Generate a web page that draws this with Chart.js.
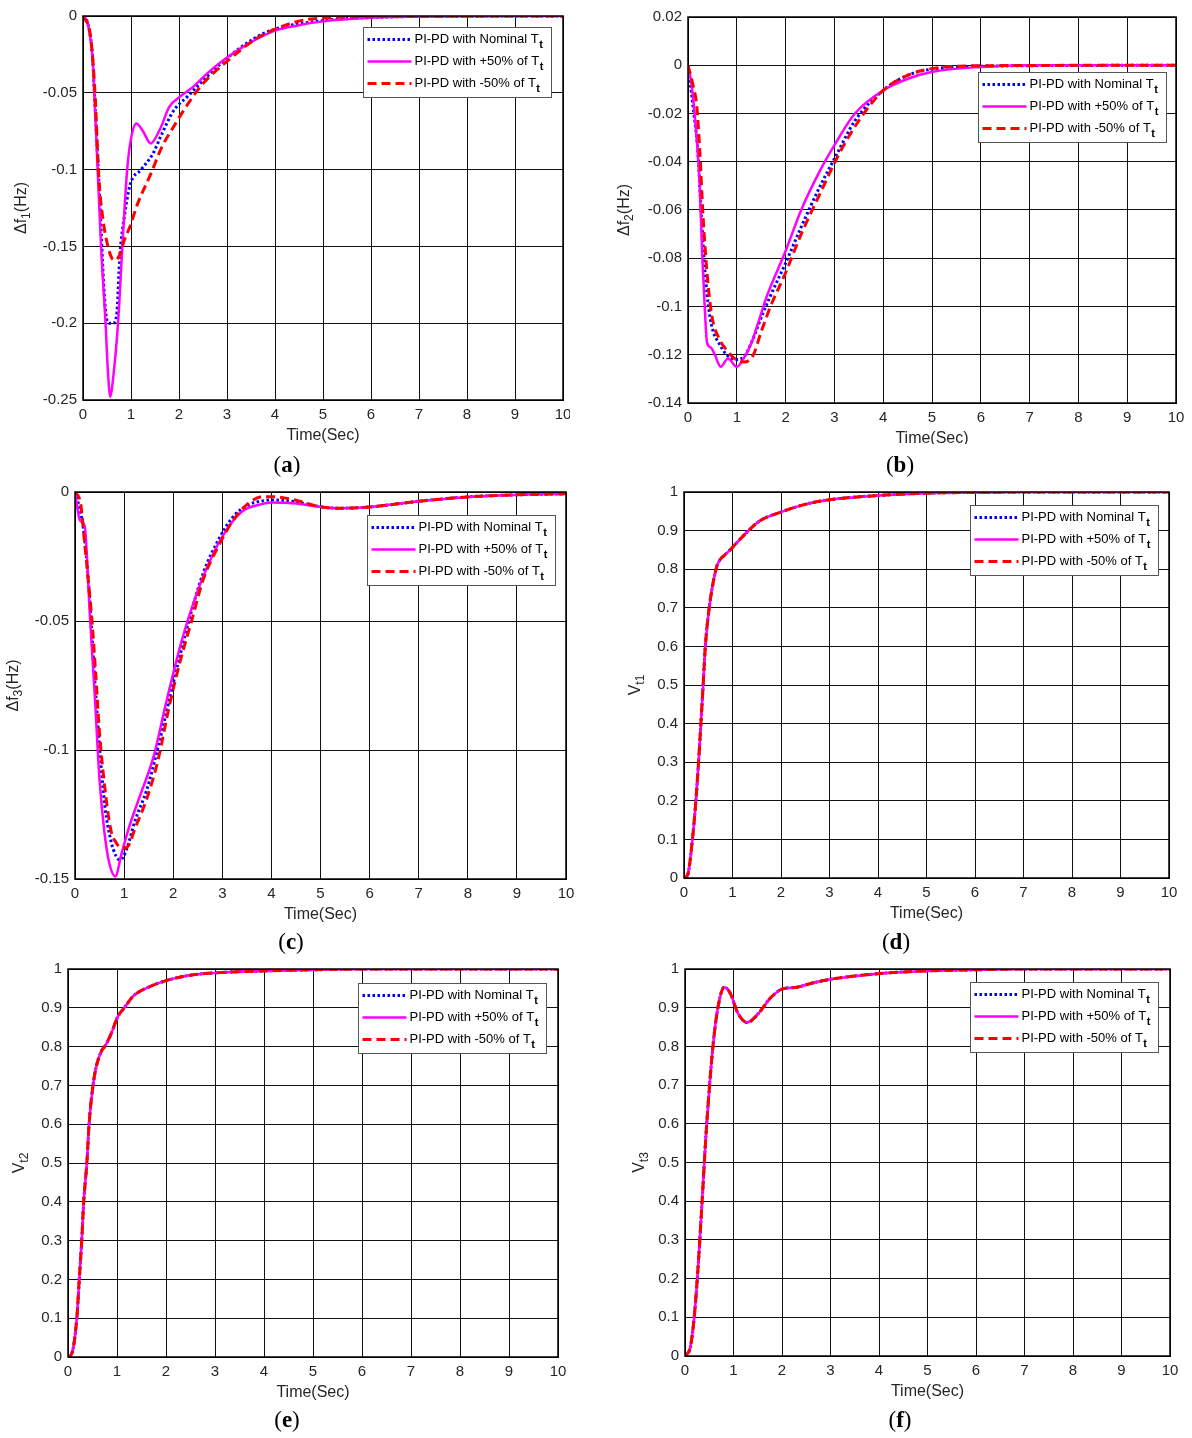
<!DOCTYPE html>
<html>
<head>
<meta charset="utf-8">
<script src="https://cdn.jsdelivr.net/npm/chart.js@4.4.1/dist/chart.umd.min.js"></script>
<style>
  html, body { margin:0; padding:0; background:#fff; }
  body { width:1192px; height:1438px; position:relative; overflow:hidden; }
  canvas { position:absolute; }
  .cap { position:absolute; font-family:'Liberation Serif','Times New Roman',serif; font-size:23px; color:#000; transform:translate(-50%,-50%); white-space:nowrap; }
</style>
</head>
<body>
<canvas id="ca"></canvas>
<canvas id="cb"></canvas>
<canvas id="cc"></canvas>
<canvas id="cd"></canvas>
<canvas id="ce"></canvas>
<canvas id="cf"></canvas>
<div class="cap" style="left:287px;top:465px">(<b>a</b>)</div>
<div class="cap" style="left:900px;top:465px">(<b>b</b>)</div>
<div class="cap" style="left:291px;top:942px">(<b>c</b>)</div>
<div class="cap" style="left:896px;top:942px">(<b>d</b>)</div>
<div class="cap" style="left:287px;top:1420px">(<b>e</b>)</div>
<div class="cap" style="left:900px;top:1420px">(<b>f</b>)</div>
<script>
// ---------------- DATA ----------------
const seriesNames = ['PI-PD with Nominal T', 'PI-PD with +50% of T', 'PI-PD with -50% of T'];
const xTicks = [0,1,2,3,4,5,6,7,8,9,10];
const yTicksA = [-0.25,-0.2,-0.15,-0.1,-0.05,0];
const yTicksB = [-0.14,-0.12,-0.1,-0.08,-0.06,-0.04,-0.02,0,0.02];
const yTicksC = [-0.15,-0.1,-0.05,0];
const yTicksV = [0,0.1,0.2,0.3,0.4,0.5,0.6,0.7,0.8,0.9,1];

// (a) Δf1
const aNomT = [0,0.1,0.2,0.235,0.35,0.43,0.49,0.55,0.62,0.7,0.77,0.86,0.98,1.21,1.45,1.64,1.88,2.19,2.5,2.98,3.6,4.0,5.0,6.0,7.0,10];
const aNomV = [0,-0.005,-0.027,-0.049,-0.12,-0.174,-0.197,-0.2,-0.2,-0.195,-0.155,-0.131,-0.11,-0.1,-0.09,-0.077,-0.062,-0.052,-0.042,-0.028,-0.014,-0.0085,-0.003,-0.001,-0.0003,0];
const aPlusT = [0,0.1,0.2,0.235,0.3,0.376,0.47,0.52,0.57,0.62,0.73,0.82,0.92,1.0,1.11,1.25,1.41,1.6,1.8,2.0,2.3,2.6,3.0,3.5,4.0,4.5,5.0,6.0,7.0,10];
const aPlusV = [0,-0.005,-0.028,-0.05,-0.096,-0.15,-0.2,-0.232,-0.248,-0.238,-0.2,-0.15,-0.1,-0.08,-0.07,-0.075,-0.083,-0.074,-0.059,-0.053,-0.046,-0.037,-0.027,-0.017,-0.0095,-0.006,-0.0035,-0.0012,-0.0003,0];
const aMinusT = [0,0.16,0.25,0.33,0.41,0.49,0.59,0.67,0.77,0.86,0.98,1.14,1.41,1.64,1.88,2.19,2.5,2.98,3.6,4.0,4.54,5.0,6.0,10];
const aMinusV = [0,-0.014,-0.05,-0.105,-0.131,-0.146,-0.157,-0.159,-0.155,-0.146,-0.137,-0.122,-0.103,-0.0855,-0.0725,-0.057,-0.044,-0.03,-0.015,-0.0085,-0.003,-0.0013,-0.0003,0];

// (b) Δf2
const bNomT = [0,0.12,0.2,0.27,0.35,0.43,0.51,0.63,0.79,0.98,1.14,1.3,1.53,1.77,2.0,2.32,2.71,3.02,3.42,4.0,4.52,5.07,6.0,10];
const bNomV = [0,-0.02,-0.035,-0.061,-0.086,-0.1016,-0.11,-0.115,-0.12,-0.122,-0.121,-0.115,-0.103,-0.092,-0.082,-0.067,-0.05,-0.038,-0.023,-0.0104,-0.004,-0.0014,-0.0004,0];
const bPlusT = [0,0.08,0.16,0.24,0.29,0.34,0.39,0.47,0.55,0.67,0.82,1.0,1.14,1.3,1.45,1.61,2.0,2.32,2.71,3.02,3.42,4.0,4.52,4.99,6.0,7.0,10];
const bPlusV = [0,-0.009,-0.026,-0.05,-0.078,-0.099,-0.115,-0.117,-0.12,-0.125,-0.1216,-0.125,-0.1216,-0.115,-0.106,-0.096,-0.077,-0.06,-0.0435,-0.0325,-0.02,-0.0104,-0.0055,-0.0028,-0.0007,0,0];
const bMinusT = [0,0.1,0.18,0.24,0.31,0.39,0.49,0.63,0.79,0.98,1.14,1.34,1.49,1.69,2.0,2.32,2.71,3.1,3.5,4.0,4.52,4.99,6.0,10];
const bMinusV = [0,-0.008,-0.017,-0.035,-0.063,-0.086,-0.104,-0.113,-0.118,-0.122,-0.123,-0.12,-0.111,-0.1,-0.086,-0.07,-0.053,-0.0366,-0.023,-0.0104,-0.004,-0.0014,-0.0002,0];

// (c) Δf3
const cNomT = [0,0.115,0.19,0.27,0.35,0.42,0.5,0.61,0.73,0.84,0.92,1.04,1.23,1.46,1.69,1.92,2.15,2.38,2.61,2.92,3.22,3.53,3.84,3.99,4.45,4.99,5.37,6,7,8,9,10];
const cNomV = [0,-0.008,-0.017,-0.034,-0.057,-0.078,-0.099,-0.122,-0.135,-0.1413,-0.1426,-0.139,-0.127,-0.1155,-0.099,-0.0806,-0.0625,-0.0457,-0.0315,-0.0186,-0.0096,-0.005,-0.0034,-0.0031,-0.0037,-0.0057,-0.0063,-0.0058,-0.0036,-0.0019,-0.0011,-0.0007];
const cPlusT = [0,0.1,0.2,0.25,0.3,0.4,0.5,0.6,0.7,0.82,0.95,1.1,1.3,1.6,1.84,2.07,2.3,2.61,3.0,3.4,3.8,3.99,4.45,4.99,5.37,6,7,8,9,10];
const cPlusV = [0,-0.011,-0.0134,-0.0276,-0.047,-0.078,-0.1116,-0.132,-0.144,-0.149,-0.14,-0.13,-0.119,-0.1026,-0.083,-0.065,-0.0496,-0.0328,-0.0173,-0.0076,-0.0047,-0.0041,-0.0044,-0.0057,-0.0063,-0.0058,-0.0036,-0.0019,-0.0011,-0.0007];
const cMinusT = [0,0.115,0.19,0.27,0.35,0.42,0.5,0.61,0.73,0.84,0.96,1.07,1.23,1.46,1.69,1.92,2.15,2.38,2.61,2.92,3.22,3.53,3.84,3.99,4.45,4.99,5.37,6,7,8,9,10];
const cMinusV = [0,-0.0044,-0.0186,-0.034,-0.051,-0.07,-0.0935,-0.115,-0.131,-0.136,-0.138,-0.1375,-0.13,-0.119,-0.104,-0.083,-0.065,-0.0496,-0.034,-0.021,-0.011,-0.0044,-0.0018,-0.0018,-0.003,-0.0057,-0.0063,-0.0058,-0.0036,-0.0019,-0.0011,-0.0007];

// (d) Vt1
const dNomT = [0,0.08,0.174,0.245,0.3,0.395,0.44,0.52,0.66,0.72,0.85,0.95,1.1,1.33,1.56,2.0,2.5,3.0,4.0,5.0,6.0,7.0,10];
const dNomV = [0,0.01,0.1,0.2,0.3,0.5,0.6,0.7,0.8,0.82,0.838,0.85,0.87,0.9,0.925,0.948,0.968,0.98,0.991,0.997,0.999,1,1];
const dPlusT = [0,0.08,0.174,0.245,0.3,0.395,0.44,0.52,0.66,0.72,0.85,0.95,1.1,1.33,1.56,2.0,2.5,3.0,4.0,5.0,6.0,7.0,10];
const dPlusV = [0,0.01,0.1,0.2,0.3,0.5,0.6,0.7,0.8,0.82,0.838,0.85,0.87,0.9,0.925,0.948,0.968,0.98,0.991,0.997,0.999,1,1];
const dMinusT = [0,0.08,0.174,0.245,0.3,0.395,0.44,0.52,0.66,0.72,0.85,0.95,1.1,1.33,1.56,2.0,2.5,3.0,4.0,5.0,6.0,7.0,10];
const dMinusV = [0,0.01,0.1,0.2,0.3,0.5,0.6,0.7,0.8,0.82,0.838,0.85,0.87,0.9,0.925,0.948,0.968,0.98,0.991,0.997,0.999,1,1];

// (e) Vt2
const eNomT = [0,0.08,0.18,0.23,0.28,0.32,0.385,0.43,0.51,0.58,0.69,0.75,0.87,1.02,1.15,1.33,1.68,2.0,2.45,3.0,4.0,5.0,6.0,10];
const eNomV = [0,0.01,0.1,0.2,0.3,0.4,0.5,0.6,0.7,0.75,0.79,0.8,0.83,0.878,0.9,0.93,0.955,0.97,0.983,0.99,0.995,0.998,1,1];
const ePlusT = [0,0.08,0.18,0.23,0.28,0.32,0.385,0.43,0.51,0.58,0.69,0.75,0.87,1.02,1.15,1.33,1.68,2.0,2.45,3.0,4.0,5.0,6.0,10];
const ePlusV = [0,0.01,0.1,0.2,0.3,0.4,0.5,0.6,0.7,0.75,0.79,0.8,0.83,0.878,0.9,0.93,0.955,0.97,0.983,0.99,0.995,0.998,1,1];
const eMinusT = [0,0.08,0.18,0.23,0.28,0.32,0.385,0.43,0.51,0.58,0.69,0.75,0.87,1.02,1.15,1.33,1.68,2.0,2.45,3.0,4.0,5.0,6.0,10];
const eMinusV = [0,0.01,0.1,0.2,0.3,0.4,0.5,0.6,0.7,0.75,0.79,0.8,0.83,0.878,0.9,0.93,0.955,0.97,0.983,0.99,0.995,0.998,1,1];

// (f) Vt3
const fNomT = [0,0.11,0.19,0.27,0.35,0.43,0.51,0.59,0.69,0.81,0.93,1.09,1.28,1.52,1.76,2.0,2.31,2.63,3.03,3.98,5.0,6.0,7.0,10];
const fNomV = [0,0.023,0.1,0.23,0.394,0.566,0.705,0.817,0.908,0.953,0.938,0.886,0.862,0.886,0.925,0.948,0.953,0.964,0.974,0.988,0.995,0.998,1,1];
const fPlusT = [0,0.11,0.19,0.27,0.35,0.43,0.51,0.59,0.69,0.81,0.93,1.09,1.28,1.52,1.76,2.0,2.31,2.63,3.03,3.98,5.0,6.0,7.0,10];
const fPlusV = [0,0.023,0.1,0.23,0.394,0.566,0.705,0.817,0.908,0.953,0.938,0.886,0.862,0.886,0.925,0.948,0.953,0.964,0.974,0.988,0.995,0.998,1,1];
const fMinusT = [0,0.11,0.19,0.27,0.35,0.43,0.51,0.59,0.69,0.81,0.93,1.09,1.28,1.52,1.76,2.0,2.31,2.63,3.03,3.98,5.0,6.0,7.0,10];
const fMinusV = [0,0.023,0.1,0.23,0.394,0.566,0.705,0.817,0.908,0.953,0.938,0.886,0.862,0.886,0.925,0.948,0.953,0.964,0.974,0.988,0.995,0.998,1,1];

// ---------------- RENDERING ----------------
const FONT = "'Liberation Sans', Arial, Helvetica, sans-serif";
Chart.defaults.font.family = FONT;
Chart.defaults.color = '#262626';

function pts(t, v) { return t.map((x, i) => ({ x: x, y: v[i] })); }
function fmt(v) { const r = +(+v).toFixed(4); return r === 0 ? '0' : String(r); }

const LINE_STYLES = [
  { c: '#0000ff', d: [2.5, 2.5], w: 3 },
  { c: '#ff00ff', d: [], w: 2.5 },
  { c: '#ff0000', d: [9, 5], w: 3 }
];

const decoPlugin = {
  id: 'deco',
  afterDraw(chart, args, o) {
    const ctx = chart.ctx, a = chart.chartArea;
    ctx.save();
    // frame
    ctx.strokeStyle = '#000'; ctx.lineWidth = 1.5;
    ctx.strokeRect(Math.round(a.left), Math.round(a.top), Math.round(a.right - a.left), Math.round(a.bottom - a.top));
    // x title
    ctx.fillStyle = '#262626';
    ctx.font = '16px ' + FONT;
    ctx.textAlign = 'center'; ctx.textBaseline = 'middle';
    ctx.fillText('Time(Sec)', (a.left + a.right) / 2, a.bottom + 35.5);
    // y title (rotated, with subscript)
    const yt = o.yTitle;
    ctx.save();
    ctx.translate(a.left - o.yTitleOff, (a.top + a.bottom) / 2);
    ctx.rotate(-Math.PI / 2);
    ctx.textAlign = 'left'; ctx.textBaseline = 'middle';
    const mainF = '16px ' + FONT, subF = '12px ' + FONT;
    ctx.font = mainF; const w1 = ctx.measureText(yt[0]).width; const w3 = ctx.measureText(yt[2]).width;
    ctx.font = subF; const w2 = ctx.measureText(yt[1]).width;
    let x0 = -(w1 + w2 + w3) / 2;
    ctx.font = mainF; ctx.fillText(yt[0], x0, 0);
    ctx.font = subF; ctx.fillText(yt[1], x0 + w1, 5);
    ctx.font = mainF; ctx.fillText(yt[2], x0 + w1 + w2, 0);
    ctx.restore();
    // legend
    const bw = 188, bh = 70;
    const bx = Math.round(a.right - o.legR - bw) + 0.5, by = Math.round(a.top + o.legT) + 0.5;
    ctx.fillStyle = '#fff';
    ctx.fillRect(bx, by, bw, bh);
    ctx.strokeStyle = '#555'; ctx.lineWidth = 1;
    ctx.strokeRect(bx, by, bw, bh);
    LINE_STYLES.forEach((s, i) => {
      const cy = by + 12 + i * 22;
      ctx.beginPath();
      ctx.setLineDash(s.d);
      ctx.strokeStyle = s.c; ctx.lineWidth = s.w;
      ctx.moveTo(bx + 4, cy); ctx.lineTo(bx + 48, cy);
      ctx.stroke();
      ctx.setLineDash([]);
      ctx.fillStyle = '#000';
      ctx.textAlign = 'left'; ctx.textBaseline = 'middle';
      ctx.font = '13px ' + FONT;
      const tx = bx + 51;
      ctx.fillText(seriesNames[i], tx, cy);
      const tw = ctx.measureText(seriesNames[i]).width;
      ctx.font = 'bold 11px ' + FONT;
      ctx.fillText('t', tx + tw + 0.5, cy + 5);
    });
    ctx.restore();
  }
};

function makePanel(id, P) {
  const cv = document.getElementById(id);
  cv.width = P.w; cv.height = P.h;
  cv.style.left = P.left + 'px'; cv.style.top = P.top + 'px';
  cv.style.width = P.w + 'px'; cv.style.height = P.h + 'px';
  const mk = (data, s, order) => ({
    data: data, borderColor: s.c, borderDash: s.d, borderWidth: s.w,
    pointRadius: 0, fill: false, cubicInterpolationMode: 'monotone', order: order,
    borderCapStyle: 'butt'
  });
  new Chart(cv, {
    type: 'line',
    data: {
      datasets: [
        mk(pts(P.s[0][0], P.s[0][1]), LINE_STYLES[0], 2),
        mk(pts(P.s[1][0], P.s[1][1]), LINE_STYLES[1], 1),
        mk(pts(P.s[2][0], P.s[2][1]), LINE_STYLES[2], 0)
      ]
    },
    options: {
      responsive: false, animation: false, devicePixelRatio: 1,
      layout: { padding: { top: P.padT, right: P.padR, left: 0, bottom: 0 } },
      plugins: {
        legend: { display: false }, tooltip: { enabled: false },
        deco: { yTitle: P.yTitle, yTitleOff: P.yTitleOff, legR: P.legR, legT: P.legT }
      },
      scales: {
        x: {
          type: 'linear', min: 0, max: 10,
          afterBuildTicks(s) { s.ticks = xTicks.map(v => ({ value: v })); },
          afterFit(s) { s.height = P.xH; s.paddingLeft = 0; s.paddingRight = 0; },
          ticks: { callback: v => fmt(v), font: { size: 15 }, color: '#262626', padding: 6, maxRotation: 0, autoSkip: false },
          grid: { color: '#111', lineWidth: 1, drawTicks: false, tickLength: 0 },
          border: { display: true, color: '#000' }
        },
        y: {
          type: 'linear', min: P.yTicks[0], max: P.yTicks[P.yTicks.length - 1],
          afterBuildTicks(s) { s.ticks = P.yTicks.map(v => ({ value: v })); },
          afterFit(s) { s.width = P.yW; s.paddingTop = 0; s.paddingBottom = 0; },
          ticks: { callback: v => fmt(v), font: { size: 15 }, color: '#262626', padding: 6, autoSkip: false },
          grid: { color: '#111', lineWidth: 1, drawTicks: false, tickLength: 0 },
          border: { display: true, color: '#000' }
        }
      }
    },
    plugins: [decoPlugin]
  });
}

makePanel('ca', { left: 0, top: 0, w: 570, h: 450, padT: 16, padR: 7, yW: 83, xH: 50,
  yTicks: yTicksA, yTitle: ['\u0394f', '1', '(Hz)'], yTitleOff: 61, legR: 12, legT: 11,
  s: [[aNomT, aNomV], [aPlusT, aPlusV], [aMinusT, aMinusV]] });
makePanel('cb', { left: 590, top: 0, w: 602, h: 444, padT: 17, padR: 16, yW: 98, xH: 41,
  yTicks: yTicksB, yTitle: ['\u0394f', '2', '(Hz)'], yTitleOff: 63, legR: 10, legT: 55,
  s: [[bNomT, bNomV], [bPlusT, bPlusV], [bMinusT, bMinusV]] });
makePanel('cc', { left: 0, top: 470, w: 590, h: 460, padT: 22, padR: 24, yW: 75, xH: 51,
  yTicks: yTicksC, yTitle: ['\u0394f', '3', '(Hz)'], yTitleOff: 61, legR: 11, legT: 23,
  s: [[cNomT, cNomV], [cPlusT, cPlusV], [cMinusT, cMinusV]] });
makePanel('cd', { left: 590, top: 470, w: 602, h: 460, padT: 22, padR: 23, yW: 94, xH: 52,
  yTicks: yTicksV, yTitle: ['V', 't1', ''], yTitleOff: 48, legR: 11, legT: 13,
  s: [[dNomT, dNomV], [dPlusT, dPlusV], [dMinusT, dMinusV]] });
makePanel('ce', { left: 0, top: 950, w: 590, h: 460, padT: 19, padR: 32, yW: 68, xH: 53,
  yTicks: yTicksV, yTitle: ['V', 't2', ''], yTitleOff: 48, legR: 12, legT: 14,
  s: [[eNomT, eNomV], [ePlusT, ePlusV], [eMinusT, eMinusV]] });
makePanel('cf', { left: 590, top: 950, w: 602, h: 460, padT: 19, padR: 22, yW: 95, xH: 54,
  yTicks: yTicksV, yTitle: ['V', 't3', ''], yTitleOff: 45, legR: 12, legT: 13,
  s: [[fNomT, fNomV], [fPlusT, fPlusV], [fMinusT, fMinusV]] });
</script>
</body>
</html>
